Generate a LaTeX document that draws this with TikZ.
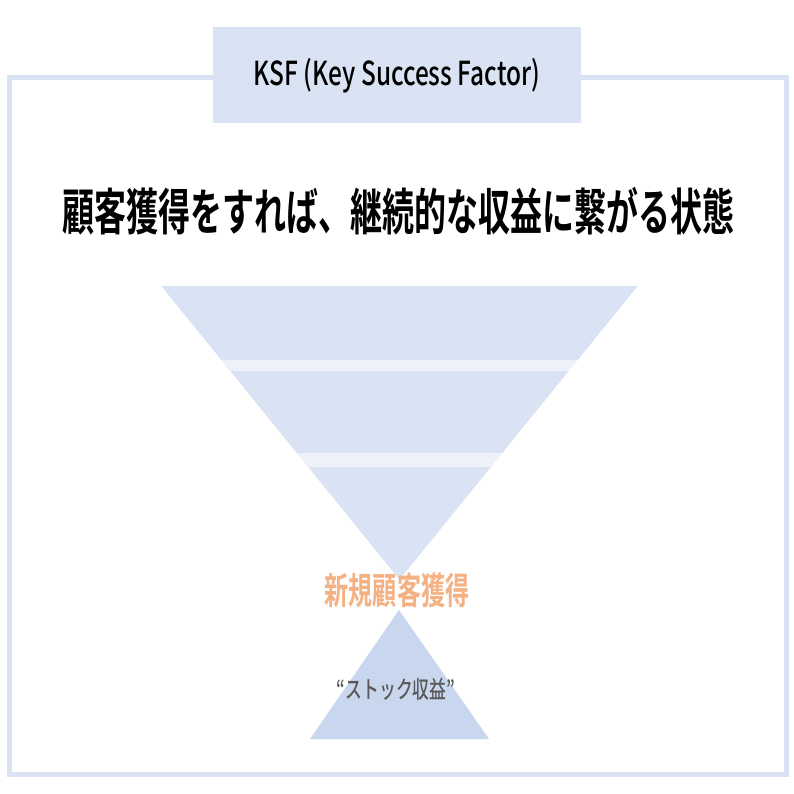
\documentclass[tikz,border=0pt]{standalone}
\usepackage{fontspec}
\setmainfont{Noto Sans CJK JP}[BoldFont={Noto Sans CJK JP Bold}]
\newfontfamily\jpmed{Noto Sans CJK JP Medium}
\usepackage{graphicx}
\definecolor{fun}{HTML}{DAE3F3}
\definecolor{gap}{HTML}{EDF1FA}
\definecolor{tri}{HTML}{C9D7EE}
\definecolor{frm}{HTML}{DAE3F3}
\definecolor{org}{HTML}{F4B183}
\definecolor{gry}{HTML}{595959}
\tikzset{
  lbl/.style={inner sep=0pt, anchor=center},
}
\begin{document}
\begin{tikzpicture}[x=1pt,y=-1pt]
\useasboundingbox (0,0) rectangle (794,794);
\fill[white] (0,0) rectangle (794,794);
% frame
\draw[frm, line width=5pt] (9,78) rectangle (786,774);
% title box
\node[fill=fun, minimum width=368pt, minimum height=96pt, inner sep=0pt] (title) at (397,75) {};
\node[lbl] (titletext) at (397,76) {\scalebox{0.74}[1]{\jpmed\fontsize{33}{33}\selectfont KSF (Key Success Factor)}};
% heading
\node[lbl] (heading) at (398,211) {\scalebox{0.64}[1]{\bfseries\fontsize{50}{50}\selectfont 顧客獲得をすれば、継続的な収益に繋がる状態}};
% funnel
\fill[fun] (161,286) -- (638,286) -- (399.5,580) -- cycle;
\fill[gap] (150,360) rectangle (650,371);
\fill[gap] (150,453) rectangle (650,467);
\fill[white] (150,280) -- (161,286) -- (399.5,580) -- (150,580) -- cycle;
\fill[white] (650,280) -- (638,286) -- (399.5,580) -- (650,580) -- cycle;
% lower triangle
\fill[tri] (399,610) -- (489,739) -- (310,739) -- cycle;
% labels
\node[lbl] (acq) at (397,590) {\scalebox{0.65}[1]{\bfseries\fontsize{37}{37}\selectfont\color{org}新規顧客獲得}};
\node[lbl] (stock) at (396,689) {\scalebox{0.7}[1]{\jpmed\fontsize{24}{24}\selectfont\color{gry}“ストック収益”}};
\end{tikzpicture}
\end{document}
